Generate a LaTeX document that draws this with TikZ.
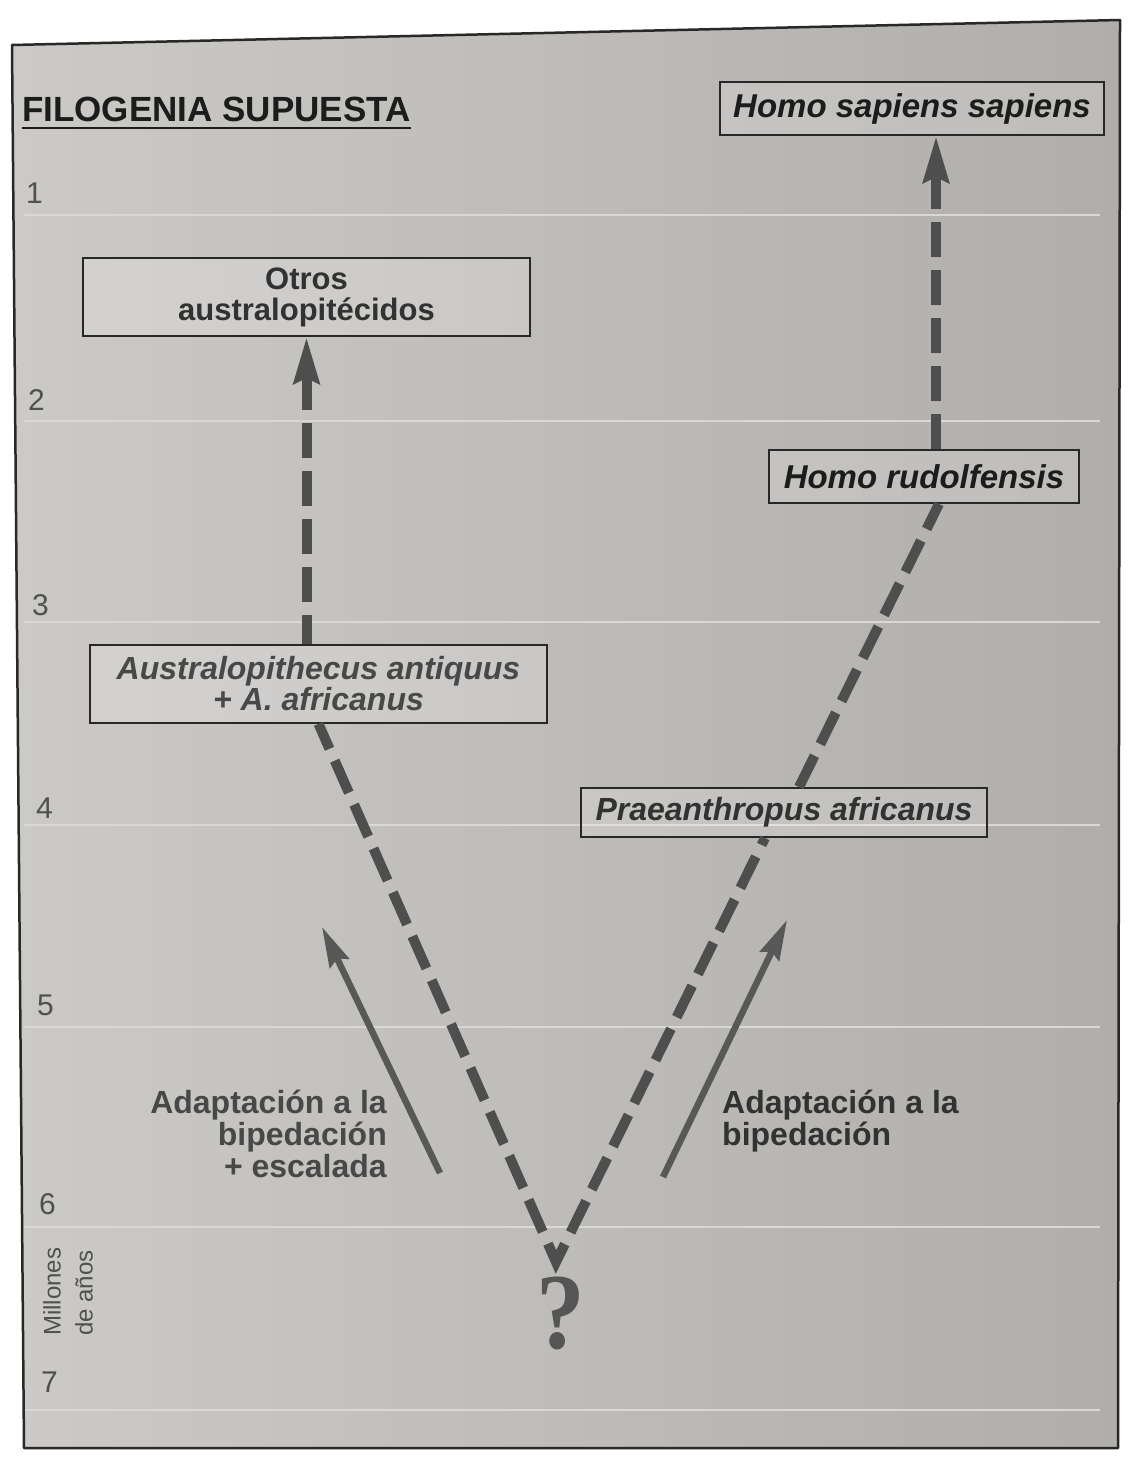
\documentclass[tikz,border=0pt]{standalone}
\usepackage{fontspec}
\setmainfont{Liberation Sans}
\newfontfamily\serifq{Liberation Serif}
\usetikzlibrary{arrows.meta,calc}
\definecolor{bgl}{RGB}{204,202,199}
\definecolor{bgr}{RGB}{176,174,171}
\definecolor{framecol}{RGB}{40,40,40}
\definecolor{txtdark}{RGB}{28,28,28}
\definecolor{txtmid}{RGB}{50,50,50}
\definecolor{txtgray}{RGB}{72,72,72}
\definecolor{numcol}{RGB}{80,80,80}
\definecolor{arrcol}{RGB}{78,78,78}
\definecolor{solcol}{RGB}{88,88,88}
\definecolor{linecol}{RGB}{218,216,213}
\definecolor{qcol}{RGB}{85,85,85}
\tikzset{
  box/.style={draw=framecol, line width=1.8pt, fill=white, fill opacity=0.18, text opacity=1, inner sep=0pt, align=center},
  homofont/.style={font=\fontsize{33}{33}\selectfont\bfseries\itshape, text=txtdark},
  num/.style={anchor=base west, inner sep=0pt, font=\fontsize{30}{30}\selectfont, text=numcol},
  dashline/.style={draw=arrcol, line width=10pt, line cap=butt, dash pattern=on 35pt off 13pt},
  dasharr/.style={dashline, {Stealth[length=46pt,width=25pt,inset=5pt]}-},
  solidarr/.style={draw=solcol, line width=6.5pt, -{Stealth[length=40pt,width=21pt,inset=5pt]}},
  hline/.style={draw=linecol, line width=2.5pt},
  label/.style={inner sep=0pt, font=\fontsize{32}{32}\selectfont\bfseries}
}
\begin{document}
\begin{tikzpicture}[x=1pt,y=-1pt]
\useasboundingbox (0,0) rectangle (1132,1461);
\fill[white] (0,0) rectangle (1132,1461);
\shade[left color=bgl, right color=bgr] (12,45) -- (1120,20) -- (1118,1448) -- (24,1448) -- cycle;
% horizontal time lines
\foreach \yy in {215,421,622,825,1027,1227,1410}
  \draw[hline] (24,\yy) -- (1100,\yy);
% frame
\draw[framecol, line width=2.5pt, line join=round] (12,45) -- (1120,20) -- (1118,1448) -- (24,1448) -- cycle;
% title
\node[anchor=base west, inner sep=0pt, font=\fontsize{35}{40}\selectfont\bfseries, text=txtdark] (title) at (22,122) {FILOGENIA SUPUESTA};
\draw[txtdark, line width=2pt] ([yshift=-6pt]title.base west) -- ([yshift=-6pt]title.base east);
% numbers
\foreach \n/\xx/\yy in {1/26/203,2/28/410,3/32/615,4/36/818,5/37/1015,6/39/1214,7/41/1392}
  \node[num] (n\n) at (\xx,\yy) {\n};
\node[rotate=90, anchor=north west, align=left, inner sep=0pt, font=\fontsize{24}{32}\selectfont, text=numcol] (mda) at (43,1336) {Millones\\de años};
% boxes
\node[box, homofont, minimum width=384pt, minimum height=53pt] (hss) at (912,108.5) {Homo sapiens sapiens};
\node[box, text=txtmid, minimum width=447pt, minimum height=78pt, font=\fontsize{31}{31}\selectfont\bfseries] (otros) at (306.5,297) {Otros\\australopitécidos};
\node[box, text=txtgray, minimum width=457pt, minimum height=78pt, font=\fontsize{32}{31}\selectfont\bfseries\itshape] (aus) at (318.5,684) {Australopithecus antiquus\\+ A. africanus};
\node[box, homofont, minimum width=310pt, minimum height=53pt] (rud) at (924,476.5) {Homo rudolfensis};
\node[box, text=txtmid, minimum width=406pt, minimum height=49pt, font=\fontsize{32}{32}\selectfont\bfseries\itshape] (prae) at (784,812.5) {Praeanthropus africanus};
% dashed lineage arrows
\draw[dasharr] (otros.south) -- (otros.south |- aus.north);
\draw[dasharr] ([xshift=24pt]hss.south) -- ([xshift=12pt]rud.north);
\coordinate (apex) at (556,1262);
\draw[draw=arrcol, line width=10pt, line join=miter] ($(apex)!20pt!(aus.south)$) -- (apex) -- ($(apex)!20pt!([xshift=-19pt]prae.south)$);
\draw[dashline] ($(apex)!33pt!(aus.south)$) -- (aus.south);
\draw[dashline] ($(apex)!33pt!([xshift=-19pt]prae.south)$) -- ([xshift=-19pt]prae.south);
\draw[dashline] ([xshift=15pt]prae.north) -- ([xshift=15pt]rud.south);
% question mark
\node[inner sep=0pt, xscale=0.9, font=\serifq\bfseries\fontsize{108}{108}\selectfont, text=qcol] (q) at (561,1313) {?};
% adaptation arrows
\coordinate (lt) at (440,1173);
\coordinate (lh) at (322,927);
\coordinate (rt) at (663,1177);
\coordinate (rh) at (787,920);
\draw[solidarr] (lt) -- (lh);
\draw[solidarr] (rt) -- (rh);
% labels
\node[label, anchor=north east, align=right, text=txtgray] (lab1) at (387,1090) {Adaptación a la\\bipedación\\+ escalada};
\node[label, anchor=north west, align=left, text=txtmid] (lab2) at (722,1090) {Adaptación a la\\bipedación};
\end{tikzpicture}
\end{document}
